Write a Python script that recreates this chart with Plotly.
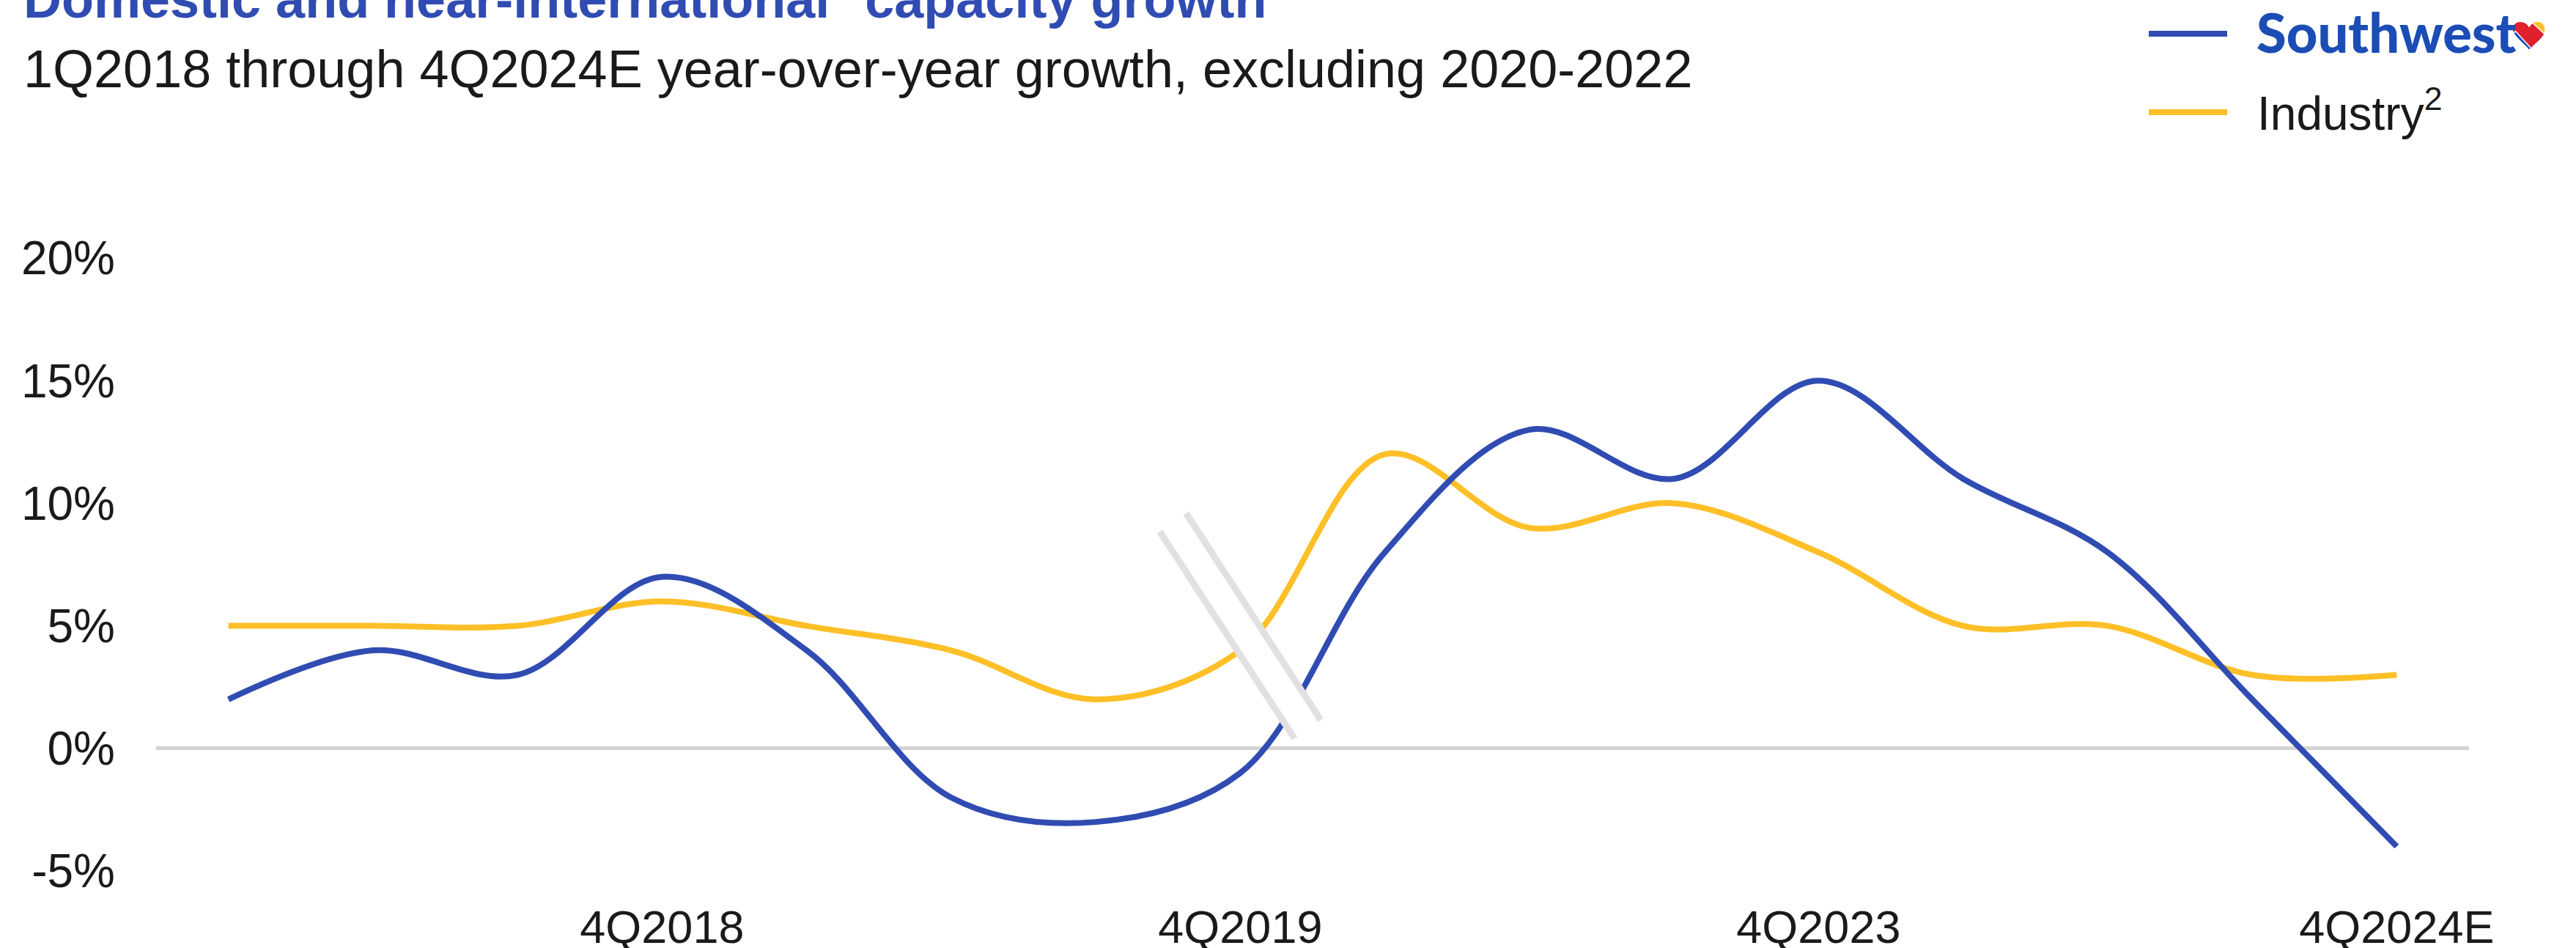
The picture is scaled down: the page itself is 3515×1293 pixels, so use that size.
import plotly.graph_objects as go

# Quarters shown on the horizontal axis (2020-2022 are left out)
quarters = ["1Q2018", "2Q2018", "3Q2018", "4Q2018",
            "1Q2019", "2Q2019", "3Q2019", "4Q2019",
            "1Q2023", "2Q2023", "3Q2023", "4Q2023",
            "1Q2024", "2Q2024", "3Q2024", "4Q2024E"]
labelled_quarters = ["4Q2018", "4Q2019", "4Q2023", "4Q2024E"]

# Year-over-year capacity growth, percent
southwest = [2, 4, 3, 7, 4, -2, -3, -1, 8, 13, 11, 15, 11, 8, 2, -4]
industry = [5, 5, 5, 6, 5, 4, 2, 4, 12, 9, 10, 8, 5, 5, 3, 3]

y_ticks = [-5, 0, 5, 10, 15, 20]
y_tick_text = [f"{v}%" for v in y_ticks]

BLUE = "#304CB2"
LOGO_BLUE = "#1B4DB5"
GOLD = "#FFBF27"
RED = "#E0202E"
TEXT = "#1A1A1A"

W, H = 3515, 1293
L, R, T, B = 213, 146, 352, 105
PW, PH = W - L - R, H - T - B


def fx(px):
    return (px - L) / PW


def fy(py):
    return (H - B - py) / PH


xs = list(range(len(quarters)))
tick_idx = [quarters.index(q) for q in labelled_quarters]

fig = go.Figure()
fig.add_trace(go.Scatter(x=xs, y=industry, mode="lines", name="Industry",
                         line=dict(color=GOLD, width=8, shape="spline", smoothing=1.0),
                         showlegend=False))
fig.add_trace(go.Scatter(x=xs, y=southwest, mode="lines", name="Southwest",
                         line=dict(color=BLUE, width=8, shape="spline", smoothing=1.0),
                         showlegend=False))

shapes = []

# Axis-break marker between 4Q2019 and 1Q2023, centred on the 4Q2019 position
bx = quarters.index("4Q2019")
by = 5
a_top = (bx - 0.557, by + 3.845)
a_bot = (bx + 0.375, by - 4.593)
b_top = (bx - 0.375, by + 4.593)
b_bot = (bx + 0.557, by - 3.845)
shapes.append(dict(type="path", xref="x", yref="y", layer="above",
                   path=f"M{a_top[0]},{a_top[1]} L{b_top[0]},{b_top[1]} "
                        f"L{b_bot[0]},{b_bot[1]} L{a_bot[0]},{a_bot[1]} Z",
                   fillcolor="white", line=dict(width=0)))
for p0, p1 in [(a_top, a_bot), (b_top, b_bot)]:
    shapes.append(dict(type="line", xref="x", yref="y", layer="above",
                       x0=p0[0], y0=p0[1], x1=p1[0], y1=p1[1],
                       line=dict(color="#E2E0E1", width=9)))

# Legend keys
for color, py in [(BLUE, 46), (GOLD, 153)]:
    shapes.append(dict(type="line", xref="paper", yref="paper",
                       x0=fx(2932), x1=fx(3039), y0=fy(py), y1=fy(py),
                       line=dict(color=color, width=8)))


def heart_path(pts_cmds, x0, y0, w, h):
    out = []
    for cmd, pts in pts_cmds:
        coords = " ".join(f"{fx(x0 + u * w):.6f},{fy(y0 + v * h):.6f}" for u, v in pts)
        out.append(f"{cmd}{coords}")
    return " ".join(out) + " Z"


hx, hy, hw, hh = 3429, 27, 44, 43
heart = [("M", [(0.5, 0.25)]),
         ("C", [(0.4, 0.0), (0.0, 0.0), (0.0, 0.3)]),
         ("C", [(0.0, 0.55), (0.35, 0.75), (0.5, 0.97)]),
         ("C", [(0.65, 0.75), (1.0, 0.55), (1.0, 0.3)]),
         ("C", [(1.0, 0.0), (0.6, 0.0), (0.5, 0.25)])]
gold_lobe = [("M", [(0.6, 0.09)]),
             ("C", [(0.75, 0.0), (1.0, 0.05), (1.0, 0.3)]),
             ("C", [(1.0, 0.36), (0.99, 0.40), (0.97, 0.44)])]
blue_band = [("M", [(0.02, 0.42)]),
             ("C", [(0.07, 0.58), (0.35, 0.77), (0.5, 0.97)]),
             ("L", [(0.56, 0.9)]),
             ("L", [(0.08, 0.36)])]
shapes.append(dict(type="path", xref="paper", yref="paper",
                   path=heart_path(heart, hx, hy, hw, hh),
                   fillcolor=RED, line=dict(width=0)))
shapes.append(dict(type="path", xref="paper", yref="paper",
                   path=heart_path(gold_lobe, hx, hy, hw, hh),
                   fillcolor=GOLD, line=dict(color="white", width=1.5)))
shapes.append(dict(type="path", xref="paper", yref="paper",
                   path=heart_path(blue_band, hx, hy, hw, hh),
                   fillcolor=LOGO_BLUE, line=dict(color="white", width=1.5)))

annotations = [
    dict(text="<b>Domestic and near-international<sup>1</sup> capacity growth</b>",
         x=fx(30), y=fy(-7), xanchor="left", yanchor="middle",
         font=dict(family="Liberation Sans", size=72, color=BLUE)),
    dict(text="1Q2018 through 4Q2024E year-over-year growth, excluding 2020-2022",
         x=fx(30), y=fy(94), xanchor="left", yanchor="middle",
         font=dict(family="Liberation Sans", size=72, color=TEXT)),
    dict(text="Southwest",
         x=fx(3077), y=fy(44), xanchor="left", yanchor="middle",
         font=dict(family="Lato", size=74, color=LOGO_BLUE, weight=900)),
    dict(text="Industry<sup>2</sup>",
         x=fx(3078), y=fy(150), xanchor="left", yanchor="middle",
         font=dict(family="Liberation Sans", size=64, color=TEXT)),
]
for a in annotations:
    a.update(xref="paper", yref="paper", showarrow=False)

fig.update_layout(
    width=W, height=H, autosize=False,
    margin=dict(l=L, r=R, t=T, b=B, pad=0, autoexpand=False),
    paper_bgcolor="white", plot_bgcolor="white",
    shapes=shapes, annotations=annotations,
    font=dict(family="Liberation Sans", size=63, color=TEXT),
    xaxis=dict(range=[-0.5, len(quarters) - 0.5], automargin=False,
               tickmode="array", tickvals=tick_idx, ticktext=labelled_quarters,
               showgrid=False, zeroline=False, showline=False, ticks="",
               ticklabelstandoff=34,
               tickfont=dict(family="Liberation Sans", size=63, color=TEXT)),
    yaxis=dict(range=[-5, 20], automargin=False,
               tickmode="array", tickvals=y_ticks, ticktext=y_tick_text,
               showgrid=False, zeroline=True, zerolinecolor="#D3D3D3", zerolinewidth=5,
               showline=False, ticks="", ticklabelstandoff=55,
               tickfont=dict(family="Liberation Sans", size=64, color=TEXT)),
)

fig.write_html("out.html")
